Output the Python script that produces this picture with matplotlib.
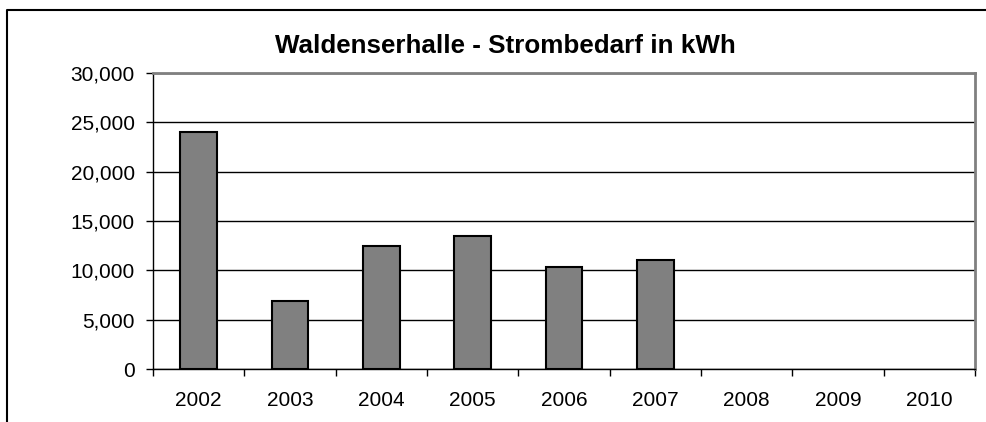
import numpy as np
import matplotlib
matplotlib.use('Agg')
import matplotlib.pyplot as plt
from matplotlib.lines import Line2D
from matplotlib.ticker import FuncFormatter

years = ['2002', '2003', '2004', '2005', '2006', '2007', '2008', '2009', '2010']
kwh = [24000, 6900, 12450, 13500, 10350, 11050, np.nan, np.nan, np.nan]

plt.rcParams['font.family'] = ['Liberation Sans', 'DejaVu Sans']

fig = plt.figure(figsize=(9.87, 4.22), dpi=100)
ax = fig.add_axes([153 / 987, 1 - 369.3 / 422, (975 - 153) / 987, (369.3 - 72.7) / 422])

x = np.arange(len(years))
ax.bar(x, kwh, width=0.4, color='#808080', edgecolor='black', linewidth=1.5, zorder=3)

ax.set_xlim(-0.5, len(years) - 0.5)
ax.set_ylim(0, 30000)
ax.set_yticks(range(0, 30001, 5000))
ax.yaxis.set_major_formatter(FuncFormatter(lambda v, p: f'{int(v):,}'))
ax.set_xticks(x)
ax.set_xticklabels(years)
ax.set_xticks(np.arange(-0.5, len(years), 1), minor=True)
ax.tick_params(axis='x', which='major', length=0, pad=15.5, labelsize=15)
ax.tick_params(axis='x', which='minor', length=5, width=1, color='black', direction='out')
ax.tick_params(axis='y', length=5, width=1, color='black', pad=8, labelsize=15)

ax.grid(axis='y', color='black', linewidth=1)
ax.set_axisbelow(True)

for s in ['left', 'bottom']:
    ax.spines[s].set_color('black')
    ax.spines[s].set_linewidth(1)
for s in ['top', 'right']:
    ax.spines[s].set_color('#808080')
    ax.spines[s].set_linewidth(2)

fig.text(505 / 987, 1 - 46 / 422, 'Waldenserhalle - Strombedarf in kWh', ha='center', va='center',
         fontsize=18.7, fontweight='bold')

# outer chart frame (cut off at right and bottom)
fig.add_artist(Line2D([6.5 / 987, 6.5 / 987, 1.0], [0.0, 1 - 10 / 422, 1 - 10 / 422],
                      transform=fig.transFigure, color='black', linewidth=1.5))

fig.savefig('out.png', dpi=100)
